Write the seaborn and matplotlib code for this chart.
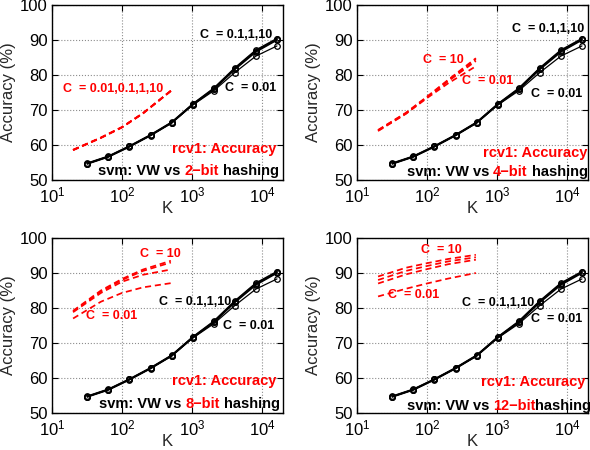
import numpy as np
import pandas as pd
import matplotlib
matplotlib.use("Agg")
import matplotlib.pyplot as plt
import seaborn as sns

sns.set_theme(style="ticks")
plt.rcParams['font.family'] = ['Liberation Sans', 'DejaVu Sans']
plt.rcParams['mathtext.fontset'] = 'custom'
plt.rcParams['mathtext.rm'] = 'Liberation Sans'
plt.rcParams['mathtext.it'] = 'Liberation Sans:italic'
plt.rcParams['mathtext.bf'] = 'Liberation Sans:bold'

# ---- dados: VW (linhas pretas, iguais nos 4 paineis)
k_vw = [32, 64, 128, 256, 512, 1024, 2048, 4096, 8192, 16384]
vw_c10 = [54.8, 56.8, 59.7, 62.9, 66.5, 71.7, 76.2, 82.0, 87.1, 90.4]
vw_c1 = [54.7, 56.7, 59.6, 62.8, 66.4, 71.6, 76.0, 81.8, 86.9, 90.2]
vw_c01 = [54.6, 56.6, 59.5, 62.7, 66.3, 71.5, 75.9, 81.6, 86.6, 90.0]
vw_c001 = [54.7, 56.7, 59.6, 62.8, 66.3, 71.4, 75.5, 80.7, 85.4, 88.3]

# ---- dados: b-bit hashing (linhas vermelhas tracejadas)
k_hash = [20, 50, 100, 200, 500]
h2_c001 = [58.5, 62.0, 65.0, 69.0, 75.4]
h2_c01 = [58.6, 62.1, 65.1, 69.1, 75.5]
h2_c1 = [58.6, 62.1, 65.1, 69.1, 75.5]
h2_c10 = [58.6, 62.1, 65.1, 69.1, 75.5]

h4_c001 = [64.0, 68.9, 73.4, 77.6, 82.5]
h4_c01 = [64.1, 69.0, 73.6, 78.2, 84.0]
h4_c1 = [64.2, 69.1, 73.7, 78.4, 84.5]
h4_c10 = [64.3, 69.2, 73.8, 78.6, 84.8]

h8_c001 = [77.0, 81.8, 84.3, 85.9, 87.1]
h8_c01 = [78.8, 84.3, 87.5, 89.5, 91.0]
h8_c1 = [79.0, 84.7, 88.0, 90.6, 93.0]
h8_c10 = [79.2, 85.0, 88.3, 91.0, 93.5]

h12_c001 = [83.3, 85.5, 87.0, 88.4, 90.0]
h12_c01 = [87.0, 89.6, 91.1, 92.5, 93.8]
h12_c1 = [88.0, 90.6, 92.0, 93.3, 94.5]
h12_c10 = [89.0, 91.5, 92.8, 94.0, 95.2]

bits_labels = ['2\u2212bit', '4\u2212bit', '8\u2212bit', '12\u2212bit']
hash_series = [
    [h2_c001, h2_c01, h2_c1, h2_c10],
    [h4_c001, h4_c01, h4_c1, h4_c10],
    [h8_c001, h8_c01, h8_c1, h8_c10],
    [h12_c001, h12_c01, h12_c1, h12_c10],
]

# ---- anotacoes de cada painel: (texto, x em K, y, cor)
notas = [
    [('C  = 0.1,1,10', 1290, 91.5, 'black'), ('C  = 0.01', 2950, 76.2, 'black'),
     ('C  = 0.01,0.1,1,10', 14.5, 75.9, 'red')],
    [('C  = 0.1,1,10', 1620, 93.0, 'black'), ('C  = 0.01', 3020, 74.5, 'black'),
     ('C  = 10', 87, 84.2, 'red'), ('C  = 0.01', 316, 78.3, 'red')],
    [('C  = 10', 182, 95.4, 'red'), ('C  = 0.01', 31, 77.6, 'red'),
     ('C  = 0.1,1,10', 339, 81.7, 'black'), ('C  = 0.01', 2820, 74.8, 'black')],
    [('C  = 10', 81, 96.7, 'red'), ('C  = 0.01', 27.5, 83.8, 'red'),
     ('C  = 0.1,1,10', 316, 81.4, 'black'), ('C  = 0.01', 3020, 76.9, 'black')],
]
rcv1_pos = [(0.97, 59.0), (0.996, 57.8), (0.97, 59.2), (0.987, 58.8)]
svm_pos = [(45, 52.7), (51, 52.4), (47, 52.6), (51, 52.0)]
bit_gap = [3, 3, 3, 3]
hash_gap = [3, 3, 3, 0]

W, H = 590, 450
rects = [
    [52 / W, 270 / H, 231 / W, 175 / H],
    [357 / W, 270 / H, 231 / W, 175 / H],
    [52 / W, 37 / H, 231 / W, 175 / H],
    [357 / W, 37 / H, 231 / W, 175 / H],
]

fig = plt.figure(figsize=(5.9, 4.5), dpi=100)

for i in range(4):
    ax = fig.add_axes(rects[i])

    # linhas vermelhas (hashing)
    for serie in hash_series[i]:
        df_h = pd.DataFrame({'K': k_hash, 'acc': serie})
        sns.lineplot(data=df_h, x='K', y='acc', ax=ax, color='red', linewidth=1.25,
                     estimator=None, sort=False)
        ax.lines[-1].set_linestyle((0, (3.5, 2.2)))

    # linhas pretas (VW)
    for serie, lw in [(vw_c001, 0.9), (vw_c01, 1.2), (vw_c1, 1.2), (vw_c10, 1.2)]:
        df_v = pd.DataFrame({'K': k_vw, 'acc': serie})
        sns.lineplot(data=df_v, x='K', y='acc', ax=ax, color='black', linewidth=lw,
                     marker='o', markersize=4, markerfacecolor='none',
                     markeredgecolor='black', markeredgewidth=0.9,
                     estimator=None, sort=False)

    ax.set_xscale('log')
    ax.set_xlim(10, 2e4)
    ax.set_ylim(50, 100)
    ax.set_xticks([10, 100, 1000, 10000])
    ax.set_yticks([50, 60, 70, 80, 90, 100])
    ax.minorticks_off()
    ax.grid(True, linestyle=':', color='0.55', linewidth=0.8)
    ax.tick_params(direction='in', top=True, right=True, length=4, width=0.8,
                   labelsize=12, colors='black')
    ax.tick_params(axis='x', pad=4)
    ax.tick_params(axis='y', pad=3)
    for sp in ax.spines.values():
        sp.set_visible(True)
        sp.set_color('black')
        sp.set_linewidth(1.0)
    ax.set_xlabel('K', fontsize=12, labelpad=-3)
    ax.set_ylabel('Accuracy (%)', fontsize=12, labelpad=3)

    for txt, xk, yv, cor in notas[i]:
        ax.text(xk, yv, txt, color=cor, fontsize=9, fontweight='bold', va='center', ha='left')

    xr, yr = rcv1_pos[i]
    ax.text(xr, yr, 'rcv1: Accuracy', color='red', fontsize=10.5, fontweight='bold',
            va='center', ha='right', transform=ax.get_yaxis_transform())

    xs, ys = svm_pos[i]
    t1 = ax.text(xs, ys, 'svm: VW vs', color='black', fontsize=10.5, fontweight='bold',
                 va='center', ha='left')
    t2 = ax.annotate(bits_labels[i], xy=(1, 0), xycoords=t1, xytext=(bit_gap[i], 0),
                     textcoords='offset points', va='bottom', ha='left', color='red',
                     fontsize=10.5, fontweight='bold')
    ax.annotate('hashing', xy=(1, 0), xycoords=t2, xytext=(hash_gap[i], 0),
                textcoords='offset points', va='bottom', ha='left', color='black',
                fontsize=10.5, fontweight='bold', annotation_clip=False)

fig.savefig('out.png', dpi=100)
